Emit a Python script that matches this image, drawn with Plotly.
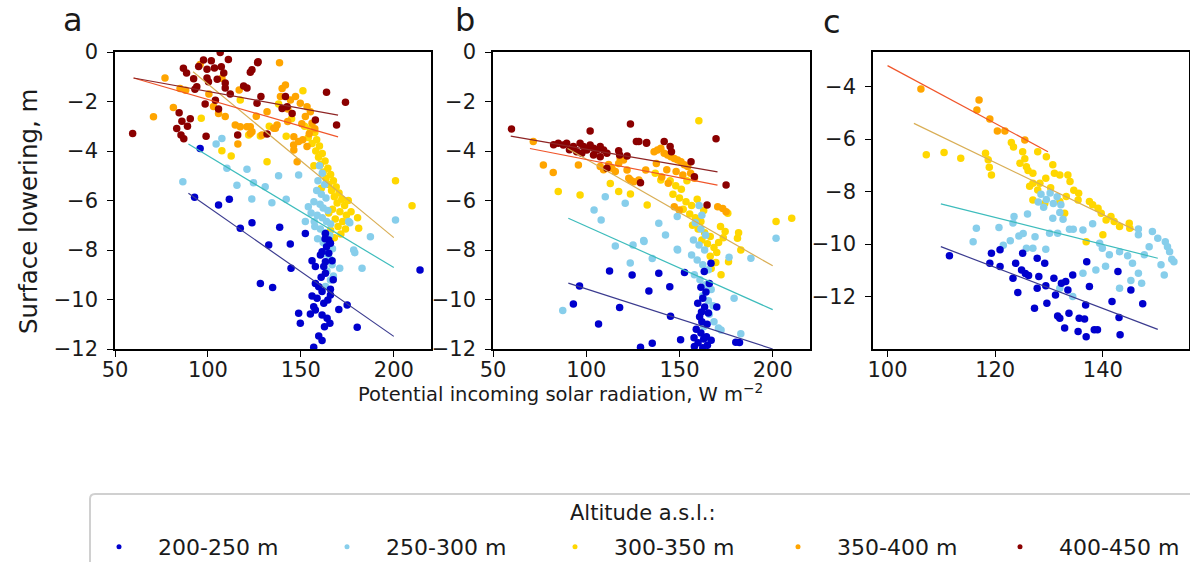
import plotly.graph_objects as go

# ---------------- altitude bands ----------------
bands = ["200-250 m", "250-300 m", "300-350 m", "350-400 m", "400-450 m"]
point_colors = ["#0000CD", "#87CEEB", "#FFD700", "#FFA500", "#8B0000"]
line_colors = ["#3B3B8F", "#3DBCBC", "#D9AE55", "#F0552A", "#8E2424"]

# ---------------- axis ticks ----------------
ab_xticks = [50, 100, 150, 200]
ab_yticks = [0, -2, -4, -6, -8, -10, -12]
c_xticks = [100, 120, 140]
c_yticks = [-4, -6, -8, -10, -12]

# ---------------- panel a ----------------
a200_x = [95.8, 92.8, 105.7, 111.5, 117.4, 123.7, 132.7, 138.6, 144.3, 144.7, 152.4, 128.2, 134.8, 148.8, 149.7,
          155.1, 163.2, 165.0, 165.9, 163.8, 161.4, 160.5, 165.0, 166.8, 163.2, 156.0, 157.8, 162.3, 163.2, 160.9,
          157.8, 159.6, 165.9, 161.4, 156.0, 158.7, 164.5, 162.3, 156.9, 157.8, 170.4, 174.9, 161.4, 164.1, 165.6,
          162.7, 180.3, 159.6, 161.4, 156.9, 214.1, 165.9, 167.4, 163.0]
a200_y = [-3.90, -5.87, -6.18, -5.95, -7.12, -6.90, -7.80, -7.08, -7.76, -8.74, -7.33, -9.35, -9.52, -10.56, -10.96,
          -10.59, -7.33, -7.60, -7.73, -7.87, -8.07, -8.20, -8.13, -8.43, -8.47, -8.43, -8.67, -8.67, -8.94, -9.10,
          -9.35, -9.48, -9.59, -9.68, -9.86, -9.95, -10.02, -10.15, -10.29, -10.42, -10.40, -10.22, -10.63, -10.76, -10.96,
          -11.10, -11.12, -11.47, -11.66, -11.93, -8.81, -9.82, -9.20, -7.55]

a250_x = [86.5, 104.4, 107.5, 110.2, 115.6, 121.0, 124.5, 130.8, 123.6, 134.4, 138.0, 142.1, 148.8, 152.4, 175.7,
          178.4, 187.4, 200.9, 170.9, 182.9, 163.2, 165.9, 179.0, 176.3, 160.0, 161.5, 159.2, 162.8, 158.5, 161.0,
          163.5, 157.0, 160.3, 162.0, 164.5, 155.5, 158.8, 161.5, 163.8, 166.0, 157.5, 160.5, 162.8, 165.5, 159.0,
          162.0, 164.8, 167.0, 163.0, 165.5, 166.8, 164.0, 167.5, 154.0, 157.2]
a250_y = [-5.24, -3.72, -3.49, -4.70, -5.38, -4.74, -5.28, -5.44, -5.94, -6.09, -5.00, -5.95, -4.97, -6.85, -6.85,
          -8.00, -7.46, -6.79, -8.74, -8.74, -9.47, -9.21, -8.11, -6.90, -4.60, -4.90, -5.20, -5.35, -5.60, -5.75,
          -5.90, -6.05, -6.15, -6.30, -6.40, -6.50, -6.60, -6.70, -6.85, -6.95, -7.05, -7.15, -7.30, -7.40, -7.55,
          -7.70, -7.85, -7.95, -8.15, -8.35, -8.60, -8.85, -9.05, -6.25, -6.85]

a300_x = [96.4, 107.5, 112.5, 131.8, 117.4, 121.9, 128.2, 142.1, 151.1, 200.9, 209.8, 181.1, 180.5, 175.5, 177.0,
          152.0, 155.0, 157.5, 154.0, 158.5, 156.0, 160.0, 158.0, 161.5, 159.5, 163.0, 160.5, 164.5, 162.0, 166.0,
          163.5, 167.5, 165.0, 169.0, 166.5, 170.5, 168.0, 172.0, 169.5, 173.5, 167.0, 171.0, 174.5, 168.5, 172.5,
          170.0, 174.0, 171.5, 168.0, 166.0, 165.0, 161.0, 157.0, 138.0, 145.0, 133.0]
a300_y = [-2.68, -3.99, -4.20, -4.43, -1.94, -3.35, -3.39, -3.40, -1.57, -5.20, -6.21, -7.12, -6.70, -6.00, -6.45,
          -3.00, -3.10, -3.25, -3.45, -3.55, -3.70, -3.80, -4.00, -4.10, -4.25, -4.40, -4.55, -4.70, -4.85, -4.95,
          -5.10, -5.20, -5.35, -5.45, -5.60, -5.70, -5.85, -5.95, -6.10, -6.20, -6.35, -6.45, -6.60, -6.75, -6.85,
          -7.05, -7.15, -7.35, -7.50, -7.20, -6.50, -5.50, -4.60, -2.10, -2.70, -3.00]

a350_x = [76.9, 81.4, 70.7, 95.8, 138.5, 85.0, 88.0, 107.5, 116.8, 105.7, 109.3, 114.7, 117.4, 122.8, 123.7,
          116.1, 135.4, 131.8, 139.9, 141.7, 144.4, 147.1, 149.7, 153.3, 155.1, 152.4, 156.0, 136.3, 146.2, 148.8,
          153.3, 122.8, 121.0, 129.1, 137.2, 142.9, 146.2, 148.0, 146.1, 150.5, 154.5, 151.0, 157.5, 143.0, 139.0,
          100.5, 103.0, 126.0]
a350_y = [-1.05, -2.24, -2.62, -0.51, -0.43, -1.47, -1.55, -1.06, -1.54, -2.48, -2.61, -2.95, -3.02, -3.02, -3.22,
          -3.72, -3.08, -2.41, -1.47, -1.33, -1.94, -1.80, -2.07, -2.21, -2.41, -2.61, -2.88, -3.08, -3.42, -3.62,
          -3.82, -3.29, -3.02, -3.35, -2.95, -2.81, -3.96, -4.43, -3.76, -2.90, -3.30, -3.55, -3.10, -2.30, -1.80,
          -1.70, -2.20, -2.60]

a400_x = [59.5, 86.8, 88.5, 92.3, 83.2, 85.5, 87.0, 86.0, 89.0, 90.5, 84.5, 97.6, 101.8, 106.6, 111.0,
          95.0, 99.5, 103.5, 107.2, 108.5, 105.0, 109.3, 123.7, 122.8, 127.0, 99.5, 100.3, 94.0, 93.0, 109.3,
          119.2, 121.0, 98.5, 105.7, 99.0, 116.0, 128.5, 126.4, 141.7, 142.6, 139.9, 145.3, 163.8, 174.0, 157.8,
          169.2, 131.8, 126.7, 104.0, 112.0]
a400_y = [-3.29, -0.66, -0.85, -1.08, -3.09, -3.35, -3.50, -2.80, -3.00, -2.70, -2.45, -0.32, -0.35, -0.02, -0.30,
          -0.59, -0.70, -0.65, -0.60, -0.85, -1.10, -1.25, -0.72, -0.82, -0.39, -1.05, -1.20, -1.40, -1.50, -1.45,
          -1.37, -1.45, -2.10, -2.30, -3.40, -3.35, -1.80, -2.07, -1.80, -2.21, -2.28, -2.48, -1.63, -2.03, -2.75,
          -2.95, -3.31, -0.43, -1.95, -1.70]

# ---------------- panel b ----------------
b200_x = [96.4, 93.1, 106.6, 112.5, 124.6, 117.9, 133.6, 129.1, 135.4, 138.9, 144.8, 145.2, 152.7, 150.6, 180.2,
          182.2, 166.9, 163.3, 166.0, 161.5, 164.2, 162.5, 159.8, 163.5, 161.8, 160.8, 162.0, 165.5, 164.8, 159.0,
          161.5, 164.5, 163.0, 160.0, 158.0, 162.5, 165.0, 167.0, 170.0, 157.8]
b200_y = [-9.45, -10.18, -10.99, -8.85, -9.01, -10.32, -9.66, -11.93, -11.77, -8.94, -9.48, -10.68, -8.91, -11.63, -11.73,
          -11.74, -8.54, -8.87, -9.35, -9.50, -9.70, -9.95, -10.15, -10.30, -10.50, -10.70, -10.90, -10.55, -11.00, -11.20,
          -11.35, -11.50, -11.60, -11.75, -11.90, -11.95, -11.85, -11.65, -10.30, -11.55]

b250_x = [87.4, 104.2, 108.0, 115.6, 120.9, 110.2, 123.6, 130.8, 138.9, 142.5, 148.8, 148.8, 176.6, 188.3, 201.8,
          179.3, 182.9, 170.9, 125.1, 135.4, 131.0, 149.0, 172.3, 160.5, 162.0, 158.5, 161.5, 164.0, 157.5, 160.5,
          163.5, 156.5, 159.5, 162.5, 165.5, 158.0, 161.0, 164.0, 167.0, 162.5, 165.5, 168.0, 166.0, 168.5, 163.0]
b250_y = [-10.44, -6.38, -6.79, -7.84, -6.11, -5.85, -8.53, -7.62, -6.92, -7.39, -7.97, -6.65, -8.29, -8.33, -7.53,
          -9.95, -11.38, -11.15, -7.80, -8.34, -7.66, -8.00, -11.23, -6.20, -6.60, -6.90, -7.15, -7.40, -7.60, -7.80,
          -8.00, -8.20, -8.40, -8.60, -8.80, -9.00, -9.20, -9.40, -9.60, -9.85, -10.05, -10.25, -10.60, -10.90, -11.10]

b300_x = [85.0, 96.7, 112.9, 117.4, 123.7, 132.7, 160.4, 201.8, 210.2, 181.1, 182.9, 175.9, 181.7, 176.3, 172.3,
          140.0, 137.0, 145.0, 148.0, 151.0, 146.5, 150.0, 153.5, 156.5, 152.0, 155.5, 158.5, 161.5, 157.0, 160.0,
          163.5, 166.5, 162.0, 165.0, 168.5, 171.0, 173.5, 170.0, 166.5, 169.5, 167.0, 172.0, 174.5, 163.0, 159.5,
          154.0]
b300_y = [-5.64, -5.78, -5.31, -5.64, -5.74, -6.18, -2.78, -6.85, -6.72, -7.53, -8.00, -6.52, -7.30, -8.47, -9.00,
          -5.17, -4.90, -5.20, -5.40, -5.55, -5.75, -5.90, -6.05, -6.20, -6.35, -6.55, -6.70, -6.85, -7.00, -7.15,
          -7.30, -7.45, -7.60, -7.75, -7.90, -7.70, -7.50, -8.10, -8.25, -8.50, -8.75, -7.05, -7.25, -6.40, -5.95,
          -5.20]

b350_x = [71.6, 77.0, 82.3, 95.8, 107.5, 109.3, 112.0, 113.8, 115.6, 117.4, 118.2, 120.0, 121.9, 122.8, 123.7,
          125.5, 128.2, 136.4, 138.2, 140.0, 141.8, 143.6, 145.4, 147.2, 149.0, 150.8, 152.6, 154.4, 151.8, 148.2,
          143.2, 137.6, 131.9, 170.5, 173.2, 175.0, 147.2, 149.9, 156.0, 158.0, 144.0, 140.5]
b350_y = [-3.62, -4.57, -4.87, -4.57, -4.63, -4.76, -4.55, -4.70, -4.83, -4.50, -4.30, -4.36, -4.77, -5.10, -5.17,
          -5.24, -5.17, -4.03, -3.96, -3.89, -4.09, -4.16, -4.23, -4.30, -4.36, -4.43, -4.56, -4.63, -4.97, -4.83,
          -4.76, -4.50, -4.77, -6.25, -6.32, -6.45, -6.25, -6.38, -4.90, -5.10, -5.30, -5.05]

b400_x = [59.9, 102.1, 123.7, 126.9, 128.2, 132.3, 85.0, 87.7, 89.5, 93.1, 96.7, 98.5, 100.3, 102.1, 103.9,
          105.7, 107.5, 109.3, 111.1, 94.9, 97.6, 103.9, 107.5, 117.4, 117.9, 121.9, 111.1, 129.1, 132.4, 141.8,
          145.0, 145.7, 156.2, 169.6, 175.0, 158.0, 164.8, 82.5, 91.0]
b400_y = [-3.11, -3.19, -2.91, -3.62, -3.62, -3.69, -3.69, -3.76, -3.69, -3.82, -3.69, -3.82, -3.96, -3.76, -3.89,
          -3.96, -3.82, -3.96, -4.09, -4.03, -4.09, -4.16, -4.23, -3.99, -4.16, -4.20, -4.70, -5.28, -3.66, -3.62,
          -3.82, -4.03, -4.43, -3.51, -5.37, -5.04, -6.18, -3.75, -3.95]

# ---------------- panel c ----------------
c200_x = [111.5, 119.3, 120.9, 119.0, 120.9, 123.8, 125.1, 124.2, 123.3, 124.9, 125.6, 126.2, 127.3, 127.8, 128.1,
          127.8, 129.2, 129.6, 129.4, 130.9, 131.2, 131.6, 132.0, 132.9, 133.7, 132.3, 133.1, 133.5, 134.4, 135.4,
          135.6, 136.6, 136.9, 136.8, 137.0, 137.5, 138.4, 139.0, 141.7, 142.8, 143.0, 143.2, 145.2, 147.4]
c200_y = [-10.45, -10.35, -10.22, -10.73, -10.86, -10.73, -10.35, -11.85, -11.30, -10.99, -11.12, -11.20, -12.45, -11.68, -11.24,
          -10.54, -10.73, -12.26, -11.59, -11.30, -11.94, -12.74, -12.83, -13.20, -12.64, -11.49, -11.43, -11.75, -11.18, -13.33,
          -12.83, -12.86, -13.53, -12.32, -10.67, -11.62, -13.27, -13.27, -12.19, -11.05, -12.80, -13.46, -11.75, -12.28]

c250_x = [116.5, 115.9, 120.7, 122.8, 123.5, 123.3, 124.4, 125.2, 125.8, 127.0, 127.4, 129.4, 130.1, 130.7, 131.6,
          132.0, 132.6, 128.5, 129.5, 130.2, 130.8, 131.5, 129.0, 132.2, 128.0, 133.8, 134.5, 136.3, 138.1, 138.7,
          139.4, 139.9, 141.2, 143.1, 143.1, 144.6, 145.2, 145.5, 146.6, 146.6, 146.6, 147.2, 149.2, 150.2, 150.8,
          151.6, 152.0, 152.4, 152.8, 153.2, 151.4, 148.6, 147.7, 132.0, 134.4, 136.3, 126.0, 121.5, 140.5]
c250_y = [-9.40, -9.91, -9.37, -9.87, -8.95, -9.20, -9.69, -9.60, -10.16, -10.16, -9.72, -10.20, -9.59, -9.02, -9.59,
          -8.80, -9.05, -8.10, -8.30, -8.05, -8.45, -8.20, -8.60, -8.50, -8.40, -9.44, -9.44, -9.46, -9.23, -10.99,
          -9.97, -10.16, -10.41, -10.29, -11.68, -10.45, -11.39, -10.73, -9.65, -9.43, -11.11, -11.49, -9.52, -9.78, -10.79,
          -9.91, -10.10, -10.29, -10.58, -10.67, -11.18, -10.10, -10.41, -11.68, -12.00, -11.11, -8.85, -10.05, -10.85]

c300_x = [107.2, 110.5, 113.6, 118.2, 118.7, 118.9, 119.3, 123.0, 123.4, 125.1, 124.6, 125.5, 125.8, 126.1, 127.0,
          127.9, 129.5, 130.7, 129.4, 128.3, 127.0, 126.4, 131.0, 132.0, 133.5, 133.9, 135.5, 135.4, 133.2, 132.0,
          137.5, 138.1, 139.1, 139.7, 140.6, 141.5, 142.1, 143.1, 144.9, 145.0, 140.0, 136.9, 127.9, 127.0, 129.2,
          132.9, 134.6, 130.3]
c300_y = [-6.60, -6.51, -6.73, -6.54, -6.79, -7.07, -7.37, -6.13, -6.30, -6.48, -6.92, -6.75, -7.05, -7.20, -7.30,
          -6.48, -6.67, -6.98, -7.49, -7.68, -7.68, -7.80, -7.30, -7.37, -7.37, -7.62, -8.06, -8.32, -8.19, -8.38,
          -8.38, -8.50, -8.64, -8.83, -9.08, -8.95, -9.14, -9.33, -9.21, -9.40, -9.65, -9.91, -7.94, -8.32, -8.45,
          -8.83, -7.95, -7.85]

c350_x = [106.2, 117.0, 116.6, 119.0, 120.4, 121.8, 125.5]
c350_y = [-4.09, -4.51, -4.89, -5.23, -5.69, -5.69, -6.03]

c400_x = []
c400_y = []

# ---------------- fitted trend lines (start and end points per band) ----------------
a_fit_x0 = [89.5, 89.5, 92.0, 60.0, 60.0]
a_fit_x1 = [200.0, 200.0, 200.0, 170.0, 170.0]
a_fit_y0 = [-5.71, -3.72, -0.80, -1.05, -1.05]
a_fit_y1 = [-11.49, -8.71, -7.50, -3.43, -2.55]

b_fit_x0 = [90.4, 90.4, 90.0, 69.8, 59.5]
b_fit_x1 = [200.0, 200.0, 200.0, 170.4, 170.4]
b_fit_y0 = [-9.34, -6.72, -3.90, -3.90, -3.40]
b_fit_y1 = [-12.00, -10.41, -8.64, -5.38, -4.84]

c_fit_x0 = [109.9, 109.9, 104.9, 100.0, None]
c_fit_x1 = [150.2, 150.2, 145.9, 129.8, None]
c_fit_y0 = [-10.10, -8.47, -5.40, -3.20, None]
c_fit_y1 = [-13.25, -10.54, -9.46, -6.48, None]

panels = [
    dict(xa="x", ya="y",
         pts=[(a200_x, a200_y), (a250_x, a250_y), (a300_x, a300_y), (a350_x, a350_y), (a400_x, a400_y)],
         fit=(a_fit_x0, a_fit_x1, a_fit_y0, a_fit_y1)),
    dict(xa="x2", ya="y2",
         pts=[(b200_x, b200_y), (b250_x, b250_y), (b300_x, b300_y), (b350_x, b350_y), (b400_x, b400_y)],
         fit=(b_fit_x0, b_fit_x1, b_fit_y0, b_fit_y1)),
    dict(xa="x3", ya="y3",
         pts=[(c200_x, c200_y), (c250_x, c250_y), (c300_x, c300_y), (c350_x, c350_y), (c400_x, c400_y)],
         fit=(c_fit_x0, c_fit_x1, c_fit_y0, c_fit_y1)),
]

FONT = "DejaVu Sans"
TXT = "#1a1a1a"
W, H = 1190, 562
fig = go.Figure()

# scatter points; the middle band sits underneath the others
draw_order = [2, 3, 4, 1, 0]
for p in panels:
    for k in draw_order:
        xs, ys = p["pts"][k]
        if not xs:
            continue
        fig.add_trace(go.Scatter(
            x=xs, y=ys, mode="markers", xaxis=p["xa"], yaxis=p["ya"],
            marker=dict(color=point_colors[k], size=7.5, line=dict(width=0)),
            showlegend=False, hoverinfo="skip"))
    x0, x1, y0, y1 = p["fit"]
    for k in range(5):
        if x0[k] is None:
            continue
        fig.add_trace(go.Scatter(
            x=[x0[k], x1[k]], y=[y0[k], y1[k]], mode="lines", xaxis=p["xa"], yaxis=p["ya"],
            line=dict(color=line_colors[k], width=1.2),
            showlegend=False, hoverinfo="skip"))

# one single-entry legend per band, laid out in a row under the panels
legend_marker_px = [119, 347, 575, 798, 1020]
legend_ids = ["legend", "legend2", "legend3", "legend4", "legend5"]
ITEMW = 68
legend_layouts = {}
for k, name in enumerate(bands):
    fig.add_trace(go.Scatter(
        x=[None], y=[None], mode="markers", name=name, legend=legend_ids[k],
        marker=dict(color=point_colors[k], size=5)))
    legend_layouts[legend_ids[k]] = dict(
        x=(legend_marker_px[k] - (ITEMW + 10) / 2) / W, y=1 - 547 / H,
        xanchor="left", yanchor="middle",
        bgcolor="rgba(0,0,0,0)", borderwidth=0,
        font=dict(family=FONT, size=22, color=TXT),
        itemwidth=ITEMW)


def dx(px0, px1):
    return [px0 / W, px1 / W]


def dy(top, bottom):
    return [1 - bottom / H, 1 - top / H]


def tick_labels(vals):
    return [str(v).replace("-", "\u2212") for v in vals]


axis_common = dict(showline=True, mirror=True, linecolor="black", linewidth=1.5,
                   ticks="outside", ticklen=6, tickwidth=1.3, tickcolor="black",
                   showgrid=False, zeroline=False, tickmode="array",
                   tickfont=dict(family=FONT, size=21, color=TXT))
x_common = dict(ticklabelstandoff=-5, **axis_common)
y_common = dict(ticklabelstandoff=5, **axis_common)

fig.update_layout(
    width=W, height=H,
    margin=dict(l=0, r=0, t=0, b=0, autoexpand=False),
    paper_bgcolor="white", plot_bgcolor="white",
    font=dict(family=FONT, color=TXT),
    xaxis=dict(domain=dx(115, 431), range=[50, 220], tickvals=ab_xticks, ticktext=tick_labels(ab_xticks),
               anchor="y", **x_common),
    yaxis=dict(domain=dy(52, 349), range=[-12, 0], tickvals=ab_yticks, ticktext=tick_labels(ab_yticks),
               anchor="x", **y_common),
    xaxis2=dict(domain=dx(493, 810), range=[50, 220], tickvals=ab_xticks, ticktext=tick_labels(ab_xticks),
                anchor="y2", **x_common),
    yaxis2=dict(domain=dy(52, 349), range=[-12, 0], tickvals=ab_yticks, ticktext=tick_labels(ab_yticks),
                anchor="x2", **y_common),
    xaxis3=dict(domain=dx(873, 1189), range=[97.3, 156.0], tickvals=c_xticks, ticktext=tick_labels(c_xticks),
                anchor="y3", **x_common),
    yaxis3=dict(domain=dy(52, 349), range=[-14.0, -2.68], tickvals=c_yticks, ticktext=tick_labels(c_yticks),
                anchor="x3", **y_common),
    shapes=[
        # legend frame, running past the right and bottom edges
        dict(type="path", xref="paper", yref="paper", layer="below",
             path=(f"M {90 / W},{1 - 580 / H} L {90 / W},{1 - 499 / H} "
                   f"Q {90 / W},{1 - 494 / H} {95 / W},{1 - 494 / H} L {1215 / W},{1 - 494 / H}"),
             line=dict(color="#d0d0d0", width=2)),
    ],
    annotations=[
        dict(text="a", x=73 / W, y=1 - 20 / H, xref="paper", yref="paper", showarrow=False,
             font=dict(family=FONT, size=32, color=TXT), xanchor="center", yanchor="middle"),
        dict(text="b", x=465 / W, y=1 - 20 / H, xref="paper", yref="paper", showarrow=False,
             font=dict(family=FONT, size=32, color=TXT), xanchor="center", yanchor="middle"),
        dict(text="c", x=832 / W, y=1 - 22 / H, xref="paper", yref="paper", showarrow=False,
             font=dict(family=FONT, size=32, color=TXT), xanchor="center", yanchor="middle"),
        dict(text="Potential incoming solar radiation, W m<sup>−2</sup>", x=560 / W, y=1 - 393 / H,
             xref="paper", yref="paper", showarrow=False,
             font=dict(family=FONT, size=19.5, color=TXT), xanchor="center", yanchor="middle"),
        dict(text="Surface lowering, m", x=28 / W, y=1 - 212 / H, xref="paper", yref="paper",
             showarrow=False, textangle=-90,
             font=dict(family=FONT, size=24.5, color=TXT), xanchor="center", yanchor="middle"),
        dict(text="Altitude a.s.l.:", x=642 / W, y=1 - 513 / H, xref="paper", yref="paper",
             showarrow=False, font=dict(family=FONT, size=21, color=TXT),
             xanchor="center", yanchor="middle"),
    ],
    **legend_layouts,
)

fig.write_html("out.html")
